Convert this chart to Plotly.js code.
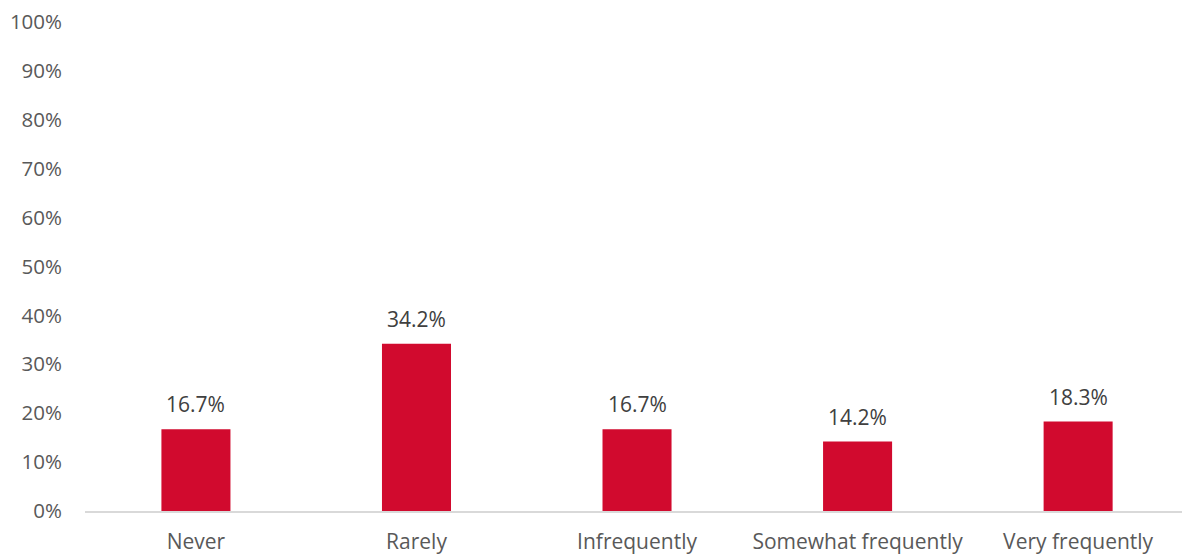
<!DOCTYPE html>
<html>
<head>
<meta charset="utf-8">
<script src="https://cdn.plot.ly/plotly-3.0.1.min.js"></script>
<style>html,body{margin:0;padding:0;background:#fff;}#chart{width:1182px;height:555px;}</style>
</head>
<body>
<div id="chart"></div>
<script>
const categories = ["Never", "Rarely", "Infrequently", "Somewhat frequently", "Very frequently"];
const values = [0.167, 0.342, 0.167, 0.142, 0.183];
const labels = ["16.7%", "34.2%", "16.7%", "14.2%", "18.3%"];
const yTickVals = [0, 0.1, 0.2, 0.3, 0.4, 0.5, 0.6, 0.7, 0.8, 0.9, 1.0];
const yTickText = ["0%", "10%", "20%", "30%", "40%", "50%", "60%", "70%", "80%", "90%", "100%"];

const fontFam = "'Open Sans', Lato, sans-serif";
const xs = categories.map((_, i) => i);
const trace = {
  type: "bar",
  x: xs,
  y: values,
  marker: {color: "#D10A2E"},
  width: 0.313,
  hoverinfo: "none"
};
const annotations = xs.map((x, i) => ({
  x: x, y: values[i], xref: "x", yref: "y",
  text: labels[i], showarrow: false,
  yanchor: "bottom", yshift: 9,
  font: {family: fontFam, size: 21, color: "#404040"}
}));
const layout = {
  width: 1182, height: 555,
  margin: {l: 85, r: 0, t: 22, b: 44},
  paper_bgcolor: "#fff", plot_bgcolor: "#fff",
  showlegend: false,
  font: {family: fontFam, size: 20, color: "#595959"},
  annotations: annotations,
  xaxis: {
    range: [-0.503, 4.471],
    tickvals: xs,
    ticktext: categories,
    showgrid: false, zeroline: false,
    showline: true, linecolor: "#d9d9d9", linewidth: 1.5,
    ticks: "", ticklabelstandoff: 11,
    tickfont: {family: fontFam, size: 21, color: "#595959"}
  },
  yaxis: {
    range: [0, 1],
    tickvals: yTickVals, ticktext: yTickText,
    showgrid: false, zeroline: false, showline: false,
    ticks: "", ticklabelstandoff: 22,
    tickfont: {family: fontFam, size: 20.5, color: "#595959"}
  }
};
Plotly.newPlot("chart", [trace], layout, {staticPlot: true, displayModeBar: false});
</script>
</body>
</html>
